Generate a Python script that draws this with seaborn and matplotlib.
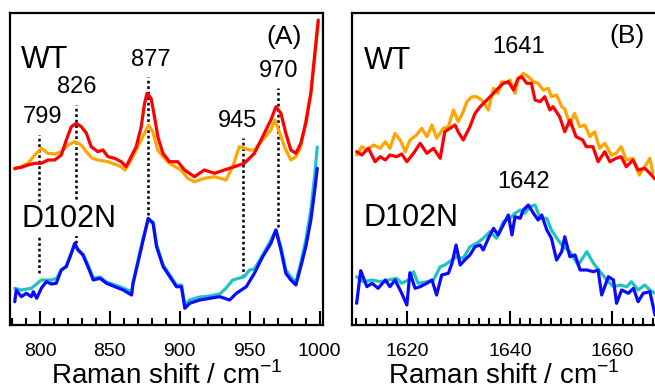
import matplotlib
matplotlib.use("Agg")
import matplotlib.pyplot as plt
import pandas as pd
import seaborn as sns
from matplotlib.ticker import MultipleLocator

sns.set_style("ticks")
plt.rcParams["font.family"] = ["Liberation Sans", "DejaVu Sans"]
plt.rcParams["mathtext.fontset"] = "custom"
plt.rcParams["mathtext.rm"] = "Liberation Sans"
plt.rcParams["text.color"] = "black"
plt.rcParams["axes.labelcolor"] = "black"
plt.rcParams["xtick.color"] = "black"

# ---- panel A (780-1000 cm-1), intensities in arbitrary units ----
wt_red_a_x = [781.9, 786.6, 791.4, 796.2, 800.9, 805.7, 810.5, 815.2, 818.8, 822.4, 825.9,
              829.5, 833.1, 836.6, 841.4, 845.0, 848.6, 853.4, 858.1, 861.6, 865.2, 868.8,
              872.4, 874.8, 876.6, 879.5, 881.9, 884.3, 887.9, 892.6, 898.6, 903.4, 910.5,
              917.6, 924.8, 931.9, 939.1, 946.2, 953.4, 959.3, 965.2, 968.8, 972.4, 975.9,
              979.5, 983.1, 986.6, 990.2, 993.8, 996.2, 999.1]
wt_red_a_y = [156.7, 157.7, 160.0, 161.7, 161.7, 165.0, 165.0, 170.0, 185.0, 198.3, 201.7,
              198.3, 192.0, 178.3, 173.3, 175.0, 168.3, 166.7, 163.3, 158.3, 168.3, 178.3,
              198.3, 221.7, 231.7, 226.7, 208.3, 188.3, 171.7, 163.3, 163.3, 155.0, 148.3,
              155.0, 151.7, 155.0, 158.3, 161.7, 171.7, 188.3, 205.0, 218.3, 211.7, 191.7,
              175.0, 171.7, 181.7, 201.7, 231.7, 265.0, 305.0]

wt_orange_a_x = [781.9, 791.4, 796.2, 800.9, 805.7, 810.5, 815.2, 820.0, 824.8, 829.5, 833.1,
                 837.1, 841.4, 848.6, 858.1, 860.7, 865.2, 870.0, 874.8, 877.6, 880.7, 884.3,
                 887.9, 892.6, 900.9, 905.7, 910.5, 917.6, 924.8, 933.1, 937.9, 942.6, 946.2,
                 950.0, 953.4, 959.3, 965.2, 968.1, 972.4, 975.9, 979.5, 983.1, 986.6, 990.2,
                 993.8, 996.2, 999.1]
wt_orange_a_y = [155.7, 161.7, 170.0, 176.7, 171.7, 171.0, 173.3, 180.0, 183.3, 180.0, 173.3,
                 167.0, 165.0, 163.3, 158.3, 155.0, 165.0, 178.3, 191.7, 200.0, 193.3, 175.0,
                 168.3, 161.7, 155.0, 146.7, 143.3, 146.7, 148.3, 145.0, 158.3, 178.3, 176.7,
                 175.0, 175.0, 185.0, 195.0, 205.0, 188.3, 175.0, 165.0, 168.3, 178.3, 205.0,
                 231.7, 263.0, 303.0]

mut_blue_a_x = [781.9, 783.0, 786.6, 790.2, 793.8, 795.2, 797.6, 800.9, 804.5, 808.1, 811.6,
                815.2, 818.8, 822.4, 824.8, 827.1, 830.7, 834.3, 838.1, 842.9, 847.6, 853.6,
                859.5, 865.5, 866.6, 870.2, 873.8, 877.4, 880.9, 883.4, 888.1, 892.9, 897.6,
                901.2, 903.6, 907.1, 914.3, 921.4, 928.6, 935.7, 940.5, 947.6, 953.4, 959.3,
                965.2, 968.8, 972.4, 975.9, 979.5, 983.1, 986.6, 990.2, 993.8, 996.6, 998.4]
mut_blue_a_y = [23.3, 35.0, 28.3, 31.7, 28.3, 33.3, 26.7, 36.7, 43.3, 41.0, 41.7,
                55.0, 58.3, 71.7, 81.7, 75.0, 70.0, 58.3, 45.0, 46.7, 41.7, 38.3,
                35.0, 30.0, 41.7, 63.3, 85.0, 106.7, 101.7, 78.3, 58.3, 48.3, 38.3,
                38.3, 16.7, 21.7, 25.0, 26.7, 28.3, 25.0, 31.7, 38.3, 51.7, 68.3,
                81.7, 95.0, 75.0, 51.7, 45.0, 40.0, 58.3, 78.3, 105.0, 135.0, 156.7]

mut_cyan_a_x = [781.9, 786.6, 793.8, 800.9, 808.1, 812.0, 815.2, 818.8, 822.4, 824.8, 827.1,
                830.7, 834.3, 838.1, 842.9, 847.6, 853.6, 859.5, 865.5, 866.6, 870.2, 873.8,
                877.4, 880.9, 883.4, 888.1, 892.9, 897.6, 901.2, 903.6, 907.1, 914.3, 921.4,
                928.6, 933.0, 937.9, 946.2, 950.0, 953.4, 959.3, 965.2, 968.8, 972.4, 975.9,
                979.5, 983.1, 986.6, 990.2, 993.8, 996.6, 998.4]
mut_cyan_a_y = [36.7, 35.0, 36.7, 45.0, 45.0, 46.7, 55.0, 59.0, 72.0, 80.0, 76.0,
                71.0, 60.0, 47.0, 48.0, 43.0, 40.0, 37.0, 33.0, 43.0, 65.0, 87.0,
                105.0, 103.0, 80.0, 60.0, 50.0, 40.0, 40.0, 20.0, 25.0, 28.0, 29.0,
                31.0, 36.7, 45.0, 48.3, 55.0, 56.0, 70.0, 85.0, 95.0, 78.0, 55.0,
                48.0, 43.0, 62.0, 85.0, 115.0, 150.0, 178.0]

# ---- panel B (1610-1668 cm-1) ----
wt_red_b_x = [1610.1, 1611.1, 1612.4, 1613.7, 1614.7, 1615.7, 1616.6, 1617.9, 1618.9, 1619.9,
              1621.2, 1622.5, 1623.8, 1625.1, 1626.4, 1627.3, 1628.3, 1629.3, 1629.9, 1630.9,
              1632.2, 1633.2, 1634.2, 1635.5, 1636.8, 1637.7, 1638.7, 1639.7, 1640.7, 1641.6,
              1642.3, 1643.3, 1644.2, 1644.9, 1645.9, 1646.8, 1647.8, 1648.4, 1649.7, 1650.7,
              1651.7, 1652.9, 1654.2, 1654.9, 1656.2, 1657.2, 1658.5, 1659.5, 1660.7, 1661.7,
              1662.7, 1664.0, 1665.0, 1666.3, 1667.3, 1667.9, 1668.3]
wt_red_b_y = [173.3, 170.0, 176.7, 163.3, 168.3, 165.0, 170.0, 168.3, 171.0, 163.3,
              171.7, 181.7, 171.7, 176.7, 166.7, 193.3, 196.7, 200.0, 193.3, 185.0,
              198.3, 211.7, 218.3, 225.0, 231.7, 236.7, 241.7, 243.3, 235.0, 246.7,
              248.3, 241.7, 241.7, 225.0, 223.3, 228.3, 215.0, 218.3, 208.3, 193.3,
              205.0, 188.3, 185.0, 178.3, 178.3, 163.3, 173.3, 163.3, 166.7, 168.3,
              158.3, 165.0, 155.0, 156.7, 151.7, 148.3, 146.0]

wt_orange_b_x = [1610.1, 1611.1, 1612.1, 1613.4, 1614.7, 1615.7, 1616.6, 1617.6, 1618.6, 1619.6,
                 1620.5, 1621.8, 1622.8, 1623.8, 1624.8, 1625.7, 1627.0, 1628.0, 1629.0, 1629.9,
                 1630.9, 1631.6, 1632.6, 1633.5, 1634.5, 1635.8, 1636.8, 1637.7, 1638.4, 1639.4,
                 1640.0, 1641.0, 1641.6, 1642.6, 1643.6, 1644.6, 1645.5, 1646.5, 1647.5, 1648.1,
                 1649.1, 1650.1, 1650.7, 1651.7, 1652.6, 1653.6, 1654.6, 1655.6, 1656.5, 1657.5,
                 1658.5, 1659.8, 1660.7, 1661.7, 1662.7, 1664.0, 1665.2, 1666.3, 1667.3, 1667.9]
wt_orange_b_y = [170.0, 178.3, 175.0, 180.0, 176.7, 183.3, 176.7, 191.7, 185.0, 173.3,
                 185.0, 190.0, 196.7, 188.3, 200.0, 186.7, 196.7, 198.3, 215.0, 203.3,
                 213.3, 223.3, 228.3, 228.3, 225.0, 215.0, 236.7, 231.7, 243.3, 241.7,
                 245.0, 231.7, 245.0, 251.7, 248.3, 243.3, 241.7, 235.0, 236.7, 228.3,
                 230.0, 218.3, 216.0, 200.0, 211.7, 198.3, 200.0, 188.3, 193.3, 176.7,
                 181.7, 170.0, 171.7, 178.3, 165.0, 166.7, 150.0, 158.3, 166.7, 151.7]

mut_blue_b_x = [1610.1, 1610.9, 1612.1, 1613.1, 1614.3, 1615.7, 1616.6, 1617.6, 1618.9, 1619.9,
                1620.5, 1621.5, 1622.5, 1623.8, 1624.8, 1625.7, 1626.7, 1628.0, 1628.7, 1629.5,
                1630.3, 1631.2, 1632.2, 1633.2, 1634.2, 1634.8, 1635.8, 1636.8, 1637.7, 1638.7,
                1639.7, 1640.4, 1641.0, 1642.0, 1642.6, 1643.6, 1644.6, 1645.5, 1646.2, 1647.2,
                1648.1, 1649.1, 1650.1, 1650.7, 1651.7, 1652.7, 1653.7, 1655.0, 1656.3, 1657.2,
                1657.9, 1659.2, 1660.2, 1660.8, 1661.8, 1663.1, 1664.1, 1665.0, 1666.0, 1667.3,
                1668.3]
mut_blue_b_y = [21.7, 54.3, 38.3, 41.7, 36.7, 45.0, 38.3, 45.0, 31.7, 20.0,
                52.3, 36.7, 38.3, 41.7, 45.0, 30.0, 50.0, 51.7, 61.7, 80.0,
                60.0, 65.0, 70.0, 78.3, 80.0, 75.0, 86.7, 96.7, 90.0, 100.0,
                110.0, 90.0, 108.3, 106.7, 115.0, 120.0, 111.7, 105.0, 110.0, 95.0,
                86.7, 65.0, 73.3, 88.3, 68.3, 70.0, 55.0, 55.0, 53.3, 55.0,
                30.0, 48.3, 45.0, 21.7, 35.0, 31.7, 36.7, 23.3, 31.7, 33.3,
                10.0]

mut_cyan_b_x = [1610.1, 1611.4, 1613.1, 1614.7, 1616.3, 1617.9, 1618.9, 1620.2, 1621.2, 1622.1,
                1623.8, 1625.1, 1626.4, 1627.3, 1628.7, 1629.6, 1630.9, 1632.2, 1633.5, 1634.8,
                1636.1, 1637.4, 1638.7, 1640.0, 1641.0, 1642.0, 1642.9, 1643.9, 1644.9, 1645.9,
                1647.2, 1648.1, 1649.4, 1650.4, 1651.7, 1653.3, 1655.0, 1656.3, 1657.6, 1658.9,
                1660.2, 1661.5, 1662.8, 1663.7, 1665.0, 1666.3, 1667.3, 1668.3]
mut_cyan_b_y = [48.3, 43.3, 45.0, 43.3, 45.0, 46.7, 41.7, 45.0, 53.3, 41.7,
                43.3, 45.0, 58.3, 60.0, 65.0, 68.3, 66.7, 78.3, 81.7, 86.7,
                93.3, 86.7, 103.3, 106.7, 111.7, 115.0, 111.7, 118.3, 120.0, 106.7,
                106.7, 95.0, 85.0, 78.3, 73.3, 60.0, 73.3, 61.7, 53.3, 45.0,
                38.3, 40.0, 38.3, 43.3, 35.0, 40.0, 35.0, 31.7]

# peak markers in panel A: position, top and bottom of the dotted line
peak_pos = [799, 826, 877, 945, 970]
peak_top = [190, 220, 248, 187, 237]
peak_bottom = [52, 82, 110, 48, 98]

red, orange, blue, cyan = "#ff0000", "#ffa500", "#0a0aff", "#1ec4c4"
LW = 2.3

fig = plt.figure(figsize=(6.55, 3.92), dpi=100)
W, H = 655, 392
ax_a = fig.add_axes([10 / W, 1 - 325 / H, 313 / W, 312 / H])
ax_b = fig.add_axes([352 / W, 1 - 325 / H, 303 / W, 312 / H])


def draw(ax, xs, ys, color):
    df = pd.DataFrame({"shift": xs, "intensity": ys})
    sns.lineplot(data=df, x="shift", y="intensity", color=color, lw=LW,
                 estimator=None, sort=False, ax=ax)


draw(ax_a, wt_orange_a_x, wt_orange_a_y, orange)
draw(ax_a, wt_red_a_x, wt_red_a_y, red)
draw(ax_a, mut_cyan_a_x, mut_cyan_a_y, cyan)
draw(ax_a, mut_blue_a_x, mut_blue_a_y, blue)

draw(ax_b, wt_orange_b_x, wt_orange_b_y, orange)
draw(ax_b, wt_red_b_x, wt_red_b_y, red)
draw(ax_b, mut_cyan_b_x, mut_cyan_b_y, cyan)
draw(ax_b, mut_blue_b_x, mut_blue_b_y, blue)

ax_a.vlines(peak_pos, peak_bottom, peak_top, colors="black", lw=1.8,
            linestyles=(0, (1.1, 1.1)), zorder=1)

for ax in (ax_a, ax_b):
    ax.set_xlabel("Raman shift / cm$^{-1}$", fontsize=20, labelpad=1)
    ax.set_ylabel("")
    ax.set_yticks([])
    ax.set_ylim(0, 312)
    ax.tick_params(axis="x", which="major", direction="in", length=10, width=1.5,
                   labelsize=14, pad=13, top=False)
    ax.tick_params(axis="x", which="minor", direction="in", length=5, width=1.5, top=False)
    for s in ax.spines.values():
        s.set_linewidth(1.6)
        s.set_color("black")

ax_a.set_xlim(778.5, 1002.5)
ax_a.xaxis.set_major_locator(MultipleLocator(50))
ax_a.xaxis.set_minor_locator(MultipleLocator(10))
ax_b.set_xlim(1609.2, 1668.3)
ax_b.xaxis.set_major_locator(MultipleLocator(20))
ax_b.xaxis.set_minor_locator(MultipleLocator(2))
ax_b.spines["right"].set_visible(False)

box = dict(facecolor="white", edgecolor="none", pad=1)
big, mid = 22, 17


def label(px, py, s, size, ha="center"):
    # px, py: figure pixels from the top-left corner
    fig.text(px / W, 1 - py / H, s, fontsize=size, ha=ha, va="center",
             bbox=box, zorder=5)


label(21, 60, "WT", big, ha="left")
label(21, 219, "D102N", big, ha="left")
label(284, 37, "(A)", 19)
label(42, 117, "799", mid)
label(77, 87, "826", mid)
label(151, 60, "877", mid)
label(238, 121, "945", mid)
label(279, 71, "970", mid)

label(364, 61, "WT", big, ha="left")
label(363, 218, "D102N", big, ha="left")
label(627, 36, "(B)", 19)
label(519, 47, "1641", mid)
label(524, 182, "1642", mid)

fig.savefig("out.png", dpi=100)
